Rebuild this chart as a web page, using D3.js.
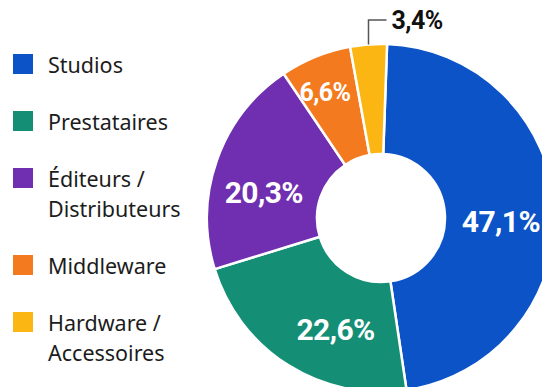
<!DOCTYPE html>
<html lang="fr">
<head>
<meta charset="utf-8">
<script src="https://cdn.jsdelivr.net/npm/d3@7"></script>
<style>
  html, body { margin: 0; padding: 0; background: #ffffff; }
  svg { display: block; }
</style>
</head>
<body>
<svg id="chart" width="542" height="387"></svg>
<script>
// Répartition des entreprises par type d'activité (%)
const categories = ["Studios", "Prestataires", "Éditeurs / Distributeurs", "Middleware", "Hardware / Accessoires"];
const values = [47.1, 22.6, 20.3, 6.6, 3.4];
const valueLabels = ["47,1%", "22,6%", "20,3%", "6,6%", "3,4%"];
const colors = ["#0b53c6", "#148f76", "#6f2fb0", "#f47a20", "#fcb614"];

const svg = d3.select("#chart");

// Donut geometry
const cx = 381, cy = 218;
const outerR = 174, innerR = 64;
const deg = Math.PI / 180;
const startAngle = 2 * deg;

// Angular shift (degrees) applied to each in-slice label for readability
const labelShift = [5, -10, -7, -2, 0];

const pie = d3.pie()
  .value(d => d.value)
  .sort(null)
  .startAngle(startAngle)
  .endAngle(startAngle + 2 * Math.PI);

const data = categories.map((c, i) => ({ name: c, value: values[i], label: valueLabels[i], color: colors[i] }));
const arcs = pie(data);

const arc = d3.arc().innerRadius(innerR).outerRadius(outerR);

const g = svg.append("g").attr("transform", `translate(${cx},${cy})`);

g.selectAll("path.slice")
  .data(arcs)
  .join("path")
  .attr("class", "slice")
  .attr("d", arc)
  .attr("fill", d => d.data.color)
  .attr("stroke", "#ffffff")
  .attr("stroke-width", 2.5)
  .attr("stroke-linejoin", "round");

// In-slice percentage labels; small slices sit further out
arcs.forEach((d, i) => {
  if (d.data.value < 5) return;
  const small = d.data.value < 10;
  const r = small ? 137 : 120;
  const a = (d.startAngle + d.endAngle) / 2 + labelShift[i] * deg;
  const x = r * Math.sin(a), y = -r * Math.cos(a);
  g.append("text")
    .attr("x", x)
    .attr("y", y)
    .attr("text-anchor", "middle")
    .attr("dominant-baseline", "central")
    .attr("font-family", "Roboto, 'Noto Sans', sans-serif")
    .attr("font-weight", 700)
    .attr("font-size", small ? 25 : 30)
    .attr("letter-spacing", -0.6)
    .attr("fill", "#ffffff")
    .text(d.data.label);
});

// Callout for the thinnest slice
arcs.forEach(d => {
  if (d.data.value >= 5) return;
  const edge = d3.arc().innerRadius(outerR).outerRadius(outerR).centroid(d);
  const x0 = edge[0], y0 = edge[1];
  const yTop = -outerR - 24;
  const x1 = x0 + 18;
  g.append("path")
    .attr("d", `M${x0},${y0}V${yTop}H${x1}`)
    .attr("fill", "none")
    .attr("stroke", "#555555")
    .attr("stroke-width", 1.5);
  g.append("text")
    .attr("x", x1 + 5)
    .attr("y", yTop)
    .attr("dominant-baseline", "central")
    .attr("font-family", "Roboto, 'Noto Sans', sans-serif")
    .attr("font-weight", 700)
    .attr("font-size", 25)
    .attr("letter-spacing", -0.5)
    .attr("fill", "#111111")
    .text(d.data.label);
});

// Legend
const legend = svg.append("g").attr("transform", "translate(13,54)");
const sq = 20, rowGap = 57, lineGap = 30;
let yPos = 0;
data.forEach(d => {
  const lines = d.name.includes(" / ")
    ? [d.name.split(" / ")[0] + " /", d.name.split(" / ")[1]]
    : [d.name];
  legend.append("rect")
    .attr("x", 0)
    .attr("y", yPos)
    .attr("width", sq)
    .attr("height", sq)
    .attr("fill", d.color);
  const t = legend.append("text")
    .attr("font-family", "'Noto Sans', 'Open Sans', sans-serif")
    .attr("font-size", 21.5)
    .attr("fill", "#1c1c1c");
  lines.forEach((ln, k) => {
    t.append("tspan")
      .attr("x", 35)
      .attr("y", yPos + 19 + k * lineGap)
      .text(ln);
  });
  yPos += rowGap + (lines.length - 1) * lineGap;
});
</script>
</body>
</html>
